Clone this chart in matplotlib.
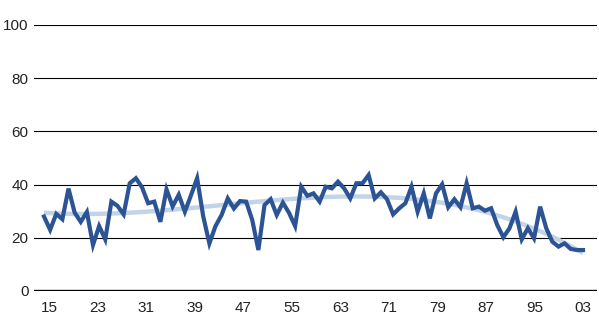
import numpy as np
import matplotlib
matplotlib.use("Agg")
import matplotlib.pyplot as plt

years = list(range(1915, 2004))
values = [28, 23, 29, 27, 38.5, 29.5, 26, 29.7, 17.3, 24.4,
          19.4, 33.6, 32, 28.8, 40.5, 42.4, 39, 33, 33.6, 26,
          38.2, 31.8, 36.2, 29.8, 36, 42.4, 28, 17.9, 24.4, 28.6,
          34.8, 31, 33.8, 33.6, 26.7, 15.4, 32.3, 34.5, 28.6, 33.2,
          29.4, 24.4, 39.2, 35.8, 36.7, 33.6, 39.2, 38.6, 41.1, 38.6,
          34.8, 40.5, 40.5, 43.6, 34.8, 37.1, 34.5, 28.8, 31.1, 33,
          39.2, 29.8, 36.7, 27.3, 36.7, 40.1, 31.5, 34.5, 31.5, 40.5,
          31.1, 31.7, 30.2, 31.1, 24.8, 20.2, 23.6, 29.8, 19.4, 23.6,
          19.8, 31.7, 23.6, 18.5, 16.7, 17.9, 15.8, 15.4, 15.4]
tick_labels = ["15", "23", "31", "39", "47", "55", "63", "71", "79", "87", "95", "03"]
y_ticks = [0, 20, 40, 60, 80, 100]

plt.rcParams['font.family'] = ['Liberation Sans', 'DejaVu Sans']

fig = plt.figure(figsize=(5.99, 3.26), dpi=100)
ax = fig.add_axes([34/599, 35/326, (597-34)/599, (291-25)/326])

x = np.array(years, dtype=float)
y = np.array(values, dtype=float)
coef = np.polyfit(x - x.mean(), y, 3)
trend = np.polyval(coef, x - x.mean())

for v in y_ticks[1:]:
    ax.axhline(v, color='black', lw=0.8, zorder=1)
ax.axhline(0, color='black', lw=2.4, zorder=1)

ax.plot(x, trend, color='#c2d4e8', lw=3.2, zorder=2, solid_capstyle='butt')
ax.plot(x, y, color='#2c5494', lw=3.0, zorder=3, solid_joinstyle='miter')

step = (583 - 44) / 88.0
ax.set_xlim(years[0] - (44 - 34) / step, years[-1] + (597 - 583) / step)
ax.set_ylim(0, 100)
tick_pos = np.linspace(years[0] + 5 / step, years[-1], len(tick_labels))
ax.set_xticks(tick_pos)
ax.set_xticklabels(tick_labels)
ax.set_yticks(y_ticks)
ax.tick_params(axis='both', length=0, labelsize=11, colors='#222222')
ax.tick_params(axis='y', pad=4)
ax.tick_params(axis='x', pad=7)
for s in ax.spines.values():
    s.set_visible(False)

fig.savefig("out.png", dpi=100)
